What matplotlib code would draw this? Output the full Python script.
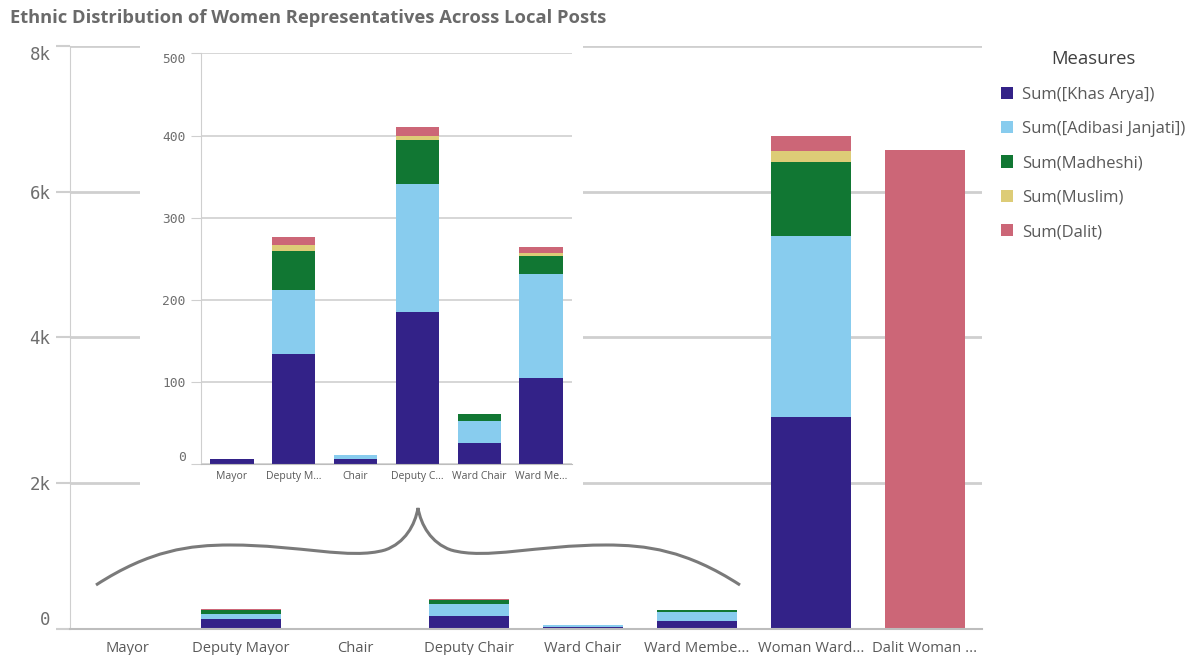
import matplotlib
matplotlib.use('Agg')
import matplotlib.pyplot as plt
import matplotlib.transforms as mtransforms
from matplotlib.patches import Rectangle, PathPatch
from matplotlib.path import Path
import numpy as np

# categories
main_labels = ['Mayor', 'Deputy Mayor', 'Chair', 'Deputy Chair', 'Ward Chair',
               'Ward Membe...', 'Woman Ward...', 'Dalit Woman ...']
inset_labels = ['Mayor', 'Deputy M...', 'Chair', 'Deputy C...', 'Ward Chair', 'Ward Me...']

# series
khas_arya = [7, 134, 6, 185, 26, 105, 2914, 0]
adibasi_janjati = [0, 78, 5, 156, 27, 126, 2474, 0]
madheshi = [0, 47, 0, 54, 8, 23, 1017, 0]
muslim = [0, 8, 0, 5, 0, 3, 152, 0]
dalit = [0, 9, 0, 11, 0, 8, 206, 6567]

series_names = ['Sum([Khas Arya])', 'Sum([Adibasi Janjati])', 'Sum(Madheshi)',
                'Sum(Muslim)', 'Sum(Dalit)']
colors = ['#332288', '#88ccee', '#117733', '#ddcc77', '#cc6677']

main_ticks = [0, 2000, 4000, 6000, 8000]
main_ticklabels = ['0', '2k', '4k', '6k', '8k']
inset_ticks = [0, 100, 200, 300, 400, 500]

text_gray = '#595959'
grid_gray = '#cfcfcf'


def stacked(ax, x, data, width):
    bottom = np.zeros(len(x))
    handles = []
    for vals, col in zip(data, colors):
        vals = np.array(vals, dtype=float)
        h = ax.bar(x, vals, width, bottom=bottom, color=col, linewidth=0)
        handles.append(h)
        bottom += vals
    return handles


def nudge(label, dy_px):
    off = mtransforms.ScaledTranslation(0, dy_px / 100.0, fig.dpi_scale_trans)
    label.set_transform(label.get_transform() + off)


fig = plt.figure(figsize=(11.94, 6.55), dpi=100)

# main chart
ax = fig.add_axes([0.0586, 0.0397, 0.7638, 0.8901])
data = [khas_arya, adibasi_janjati, madheshi, muslim, dalit]
x = np.arange(len(main_labels))
handles = stacked(ax, x, data, 0.7)
ax.set_xlim(-0.5, len(main_labels) - 0.5)
ax.set_ylim(0, 8000)
ax.set_axisbelow(True)
ax.yaxis.grid(True, color=grid_gray, linewidth=2)
ax.set_yticks(main_ticks)
ax.set_yticklabels(main_ticklabels, family='DejaVu Sans Mono', fontsize=12.5, color='#6e6e6e')
ax.get_yticklabels()[0].set_va('bottom')
ax.get_yticklabels()[-1].set_va('top')
nudge(ax.get_yticklabels()[-1], -5)
ax.tick_params(axis='y', length=10, color=grid_gray, width=1.5, pad=4)
ax.set_xticks(x)
ax.set_xticklabels(main_labels, fontsize=10.6, color=text_gray, family='Open Sans')
ax.tick_params(axis='x', length=0, pad=9)
for s in ['top', 'right']:
    ax.spines[s].set_visible(False)
ax.spines['left'].set_color(grid_gray)
ax.spines['bottom'].set_color('#bdbdbd')
ax.spines['bottom'].set_linewidth(1.5)

# white panel behind the zoomed view
fig.add_artist(Rectangle((140 / 1194, 1 - 490 / 655), 443 / 1194, 452 / 655,
                         transform=fig.transFigure, facecolor='white',
                         edgecolor='none', zorder=2))

# zoomed inset for the first six posts
ins = fig.add_axes([0.1683, 0.2911, 0.3107, 0.6274], zorder=3)
xi = np.arange(len(inset_labels))
stacked(ins, xi, [d[:len(inset_labels)] for d in data], 0.7)
ins.set_xlim(-0.5, len(inset_labels) - 0.5)
ins.set_ylim(0, 500)
ins.set_axisbelow(True)
ins.yaxis.grid(True, color=grid_gray, linewidth=1.2)
ins.set_yticks(inset_ticks)
ins.set_yticklabels([str(t) for t in inset_ticks], family='DejaVu Sans Mono',
                    fontsize=9.3, color='#6e6e6e')
ins.get_yticklabels()[0].set_va('bottom')
ins.get_yticklabels()[-1].set_va('top')
nudge(ins.get_yticklabels()[-1], -3)
ins.tick_params(axis='y', length=7, color=grid_gray, pad=4)
ins.set_xticks(xi)
ins.set_xticklabels(inset_labels, fontsize=7.5, color=text_gray, family='Open Sans')
ins.tick_params(axis='x', length=0, pad=5)
for s in ['top', 'right']:
    ins.spines[s].set_visible(False)
ins.spines['left'].set_color(grid_gray)
ins.spines['bottom'].set_color('#bdbdbd')
ins.patch.set_alpha(0)

# curly brace pointing from the small bars to the inset
W, H = 1194.0, 655.0
pts = [(96, 585), (150, 550), (190, 545), (230, 545),
       (300, 545), (350, 560), (385, 550),
       (405, 543), (415, 525), (418, 508),
       (421, 525), (431, 543), (451, 550),
       (486, 560), (536, 545), (606, 545),
       (646, 545), (686, 550), (740, 585)]
codes = [Path.MOVETO] + [Path.CURVE4] * (len(pts) - 1)
verts = [(px / W, 1 - py / H) for px, py in pts]
fig.add_artist(PathPatch(Path(verts, codes), transform=fig.transFigure,
                         facecolor='none', edgecolor='#7a7a7a', linewidth=2.2,
                         zorder=4))

# legend
leg = fig.legend([h[0] for h in handles], series_names, loc='upper left',
                 bbox_to_anchor=(0.8255, 0.946), frameon=False, title='Measures',
                 prop={'family': 'Open Sans', 'size': 12},
                 handlelength=0.75, handleheight=0.75, handletextpad=0.55,
                 labelspacing=1.1)
leg.get_title().set_fontsize(13.3)
leg.get_title().set_family('Open Sans')
leg.get_title().set_color('#404040')
for t in leg.get_texts():
    t.set_color(text_gray)

fig.text(0.008, 0.972, 'Ethnic Distribution of Women Representatives Across Local Posts',
         fontsize=13.2, fontweight='bold', color='#6a6a6a', family='Open Sans',
         va='center', ha='left')

fig.savefig('out.png', dpi=100)
